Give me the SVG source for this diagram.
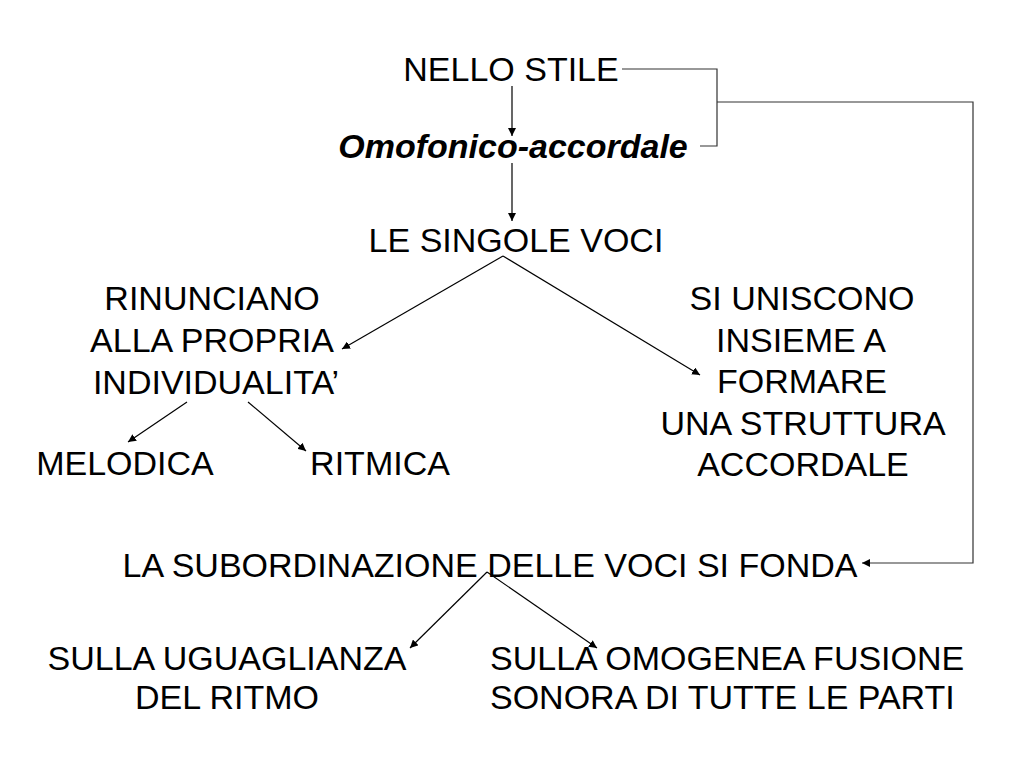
<svg xmlns="http://www.w3.org/2000/svg" width="1024" height="768" viewBox="0 0 1024 768">
<defs>
<style>
text{font-family:"Liberation Sans",Arial,Helvetica,sans-serif;font-size:34px;fill:#000}
.c{text-anchor:middle}
.bi{font-weight:bold;font-style:italic}
.ln{fill:none;stroke:#000;stroke-width:1.2}
.br{fill:none;stroke:#333;stroke-width:1.2}
</style>
<marker id="ah" viewBox="0 0 10 10" refX="10" refY="5" markerWidth="8" markerHeight="8" markerUnits="userSpaceOnUse" orient="auto">
<path d="M0,0 L10,5 L0,10 z" fill="#000"/>
</marker>
</defs>
<rect width="1024" height="768" fill="#fff"/>
<g id="connectors">
<line class="ln" x1="512" y1="86" x2="512" y2="136" marker-end="url(#ah)"/>
<line class="ln" x1="512" y1="163" x2="512" y2="221" marker-end="url(#ah)"/>
<line class="ln" x1="503" y1="256" x2="342" y2="349" marker-end="url(#ah)"/>
<line class="ln" x1="503" y1="256" x2="700" y2="375" marker-end="url(#ah)"/>
<line class="ln" x1="187" y1="402" x2="128" y2="442" marker-end="url(#ah)"/>
<line class="ln" x1="248" y1="402" x2="306" y2="451" marker-end="url(#ah)"/>
<polyline class="br" points="622,69 717,69 717,146 700,146"/>
<polyline class="br" points="717,102 973,102 973,563 862,563" marker-end="url(#ah)"/>
<line class="ln" x1="487" y1="572" x2="410" y2="648" marker-end="url(#ah)"/>
<line class="ln" x1="487" y1="572" x2="597" y2="648" marker-end="url(#ah)"/>
</g>
<g id="n-nello"><text class="c" x="511" y="81">NELLO STILE</text></g>
<g id="n-omofonico"><text class="c bi" x="513" y="158">Omofonico-accordale</text></g>
<g id="n-singole"><text class="c" x="516" y="252">LE SINGOLE VOCI</text></g>
<g id="n-rinunciano">
<text class="c" x="212" y="310">RINUNCIANO</text>
<text class="c" x="212" y="352">ALLA PROPRIA</text>
<text class="c" x="216" y="394">INDIVIDUALITA’</text>
</g>
<g id="n-melodica"><text class="c" x="125" y="475">MELODICA</text></g>
<g id="n-ritmica"><text class="c" x="380" y="475">RITMICA</text></g>
<g id="n-uniscono">
<text class="c" x="802" y="310">SI UNISCONO</text>
<text class="c" x="801" y="352">INSIEME A</text>
<text class="c" x="802" y="393">FORMARE</text>
<text class="c" x="803" y="435">UNA STRUTTURA</text>
<text class="c" x="803" y="476">ACCORDALE</text>
</g>
<g id="n-subordinazione"><text class="c" x="490" y="577">LA SUBORDINAZIONE DELLE VOCI SI FONDA</text></g>
<g id="n-uguaglianza">
<text class="c" x="227" y="670">SULLA UGUAGLIANZA</text>
<text class="c" x="227" y="709">DEL RITMO</text>
</g>
<g id="n-fusione">
<text x="490" y="670">SULLA OMOGENEA FUSIONE</text>
<text x="490" y="709">SONORA DI TUTTE LE PARTI</text>
</g>
</svg>
